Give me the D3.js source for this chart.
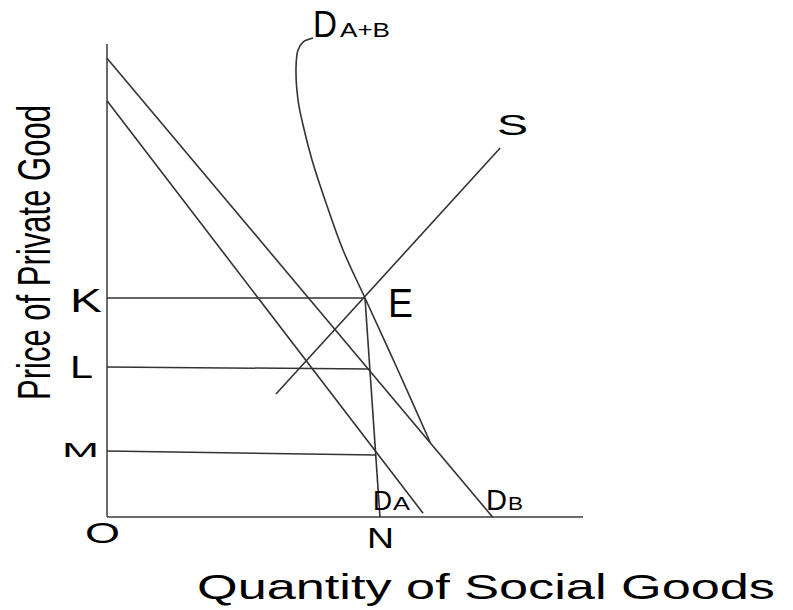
<!DOCTYPE html>
<html>
<head>
<meta charset="utf-8">
<script src="https://cdn.jsdelivr.net/npm/d3@7"></script>
<style>
  html, body { margin: 0; padding: 0; background: #fff; }
  svg { display: block; }
  text { font-family: "Liberation Sans", Arial, sans-serif; fill: #000; }
</style>
</head>
<body>
<svg id="chart" width="793" height="610"></svg>
<script>
// ---- data (quantity q, price p; axes 0..100) ----
const demandB = [{q: 0, p: 97}, {q: 81, p: 0}];
const demandA = [{q: 0, p: 88}, {q: 66.4, p: 0.8}];
const supply = [{q: 35.5, p: 26}, {q: 82.6, p: 78}];
const demandAB = [
  {q: 43.28, p: 101.27}, {q: 41.18, p: 100.42}, {q: 40.13, p: 98.73},
  {q: 39.71, p: 95.14}, {q: 40.13, p: 88.16}, {q: 41.18, p: 82.88},
  {q: 43.07, p: 75.48}, {q: 45.80, p: 67.02}, {q: 49.58, p: 56.45},
  {q: 54.20, p: 46.30}, {q: 60.92, p: 31.50}, {q: 67.86, p: 15.86}
];
const dropLine = [{q: 54.2, p: 46.3}, {q: 57.35, p: 0}];
const priceLevels = [
  {name: "K", pL: 46.3, pR: 46.3, qR: 54.2},
  {name: "L", pL: 31.7, pR: 31.3, qR: 55.25},
  {name: "M", pL: 13.95, pR: 13.1, qR: 56.4}
];
const axisX = [{q: 0, p: 0}, {q: 100, p: 0}];
const axisY = [{q: 0, p: 0}, {q: 0, p: 100}];

// ---- layout ----
const svg = d3.select("#chart");
const x = d3.scaleLinear().domain([0, 100]).range([107, 583]);
const y = d3.scaleLinear().domain([0, 100]).range([517, 44]);
const line = d3.line().x(d => x(d.q)).y(d => y(d.p));

// axes
svg.append("path").datum(axisY).attr("d", line)
  .attr("stroke", "#6b6b6b").attr("stroke-width", 2).attr("fill", "none");
svg.append("path").datum(axisX).attr("d", line)
  .attr("stroke", "#6b6b6b").attr("stroke-width", 2).attr("fill", "none");

// price level lines
svg.selectAll("path.level").data(priceLevels).enter().append("path")
  .attr("class", "level")
  .attr("d", d => line([{q: 0, p: d.pL}, {q: d.qR, p: d.pR}]))
  .attr("stroke", "#333").attr("stroke-width", 1.5).attr("fill", "none");

const strokeLine = (data, curve) => svg.append("path").datum(data)
  .attr("d", curve ? d3.line().x(d => x(d.q)).y(d => y(d.p)).curve(curve)(data) : line(data))
  .attr("stroke", "#333").attr("stroke-width", 1.6).attr("fill", "none");

strokeLine(demandB);
strokeLine(demandA);
strokeLine(supply);
strokeLine(dropLine);
strokeLine(demandAB, d3.curveCatmullRom.alpha(0.5));

// labels: text, x, baseline y, font-size, textLength
function label(t, px, py, fs, tl) {
  svg.append("text").attr("x", px).attr("y", py)
    .attr("font-size", fs)
    .attr("textLength", tl).attr("lengthAdjust", "spacingAndGlyphs")
    .text(t);
}
label("D", 313, 37, 37, 24);
label("A+B", 340, 37, 21, 50);
label("S", 497, 135, 30, 31);
label("E", 388, 317, 40, 25);
label("K", 70, 312, 33, 32);
label("L", 70, 378, 32, 23);
label("M", 62, 457, 21, 37);
label("O", 85, 543, 30, 35);
label("N", 367, 548, 30, 27);
label("D", 373, 510, 28, 19);
label("A", 393, 510, 18, 17);
label("D", 486, 510, 30, 21);
label("B", 508, 510, 18, 15);

// axis titles
svg.append("text").attr("x", 197).attr("y", 599)
  .attr("font-size", 35)
  .attr("textLength", 578).attr("lengthAdjust", "spacingAndGlyphs")
  .text("Quantity of Social Goods");
svg.append("text")
  .attr("transform", "translate(50,400) rotate(-90)")
  .attr("font-size", 47)
  .attr("textLength", 295).attr("lengthAdjust", "spacingAndGlyphs")
  .text("Price of Private Good");
</script>
</body>
</html>
